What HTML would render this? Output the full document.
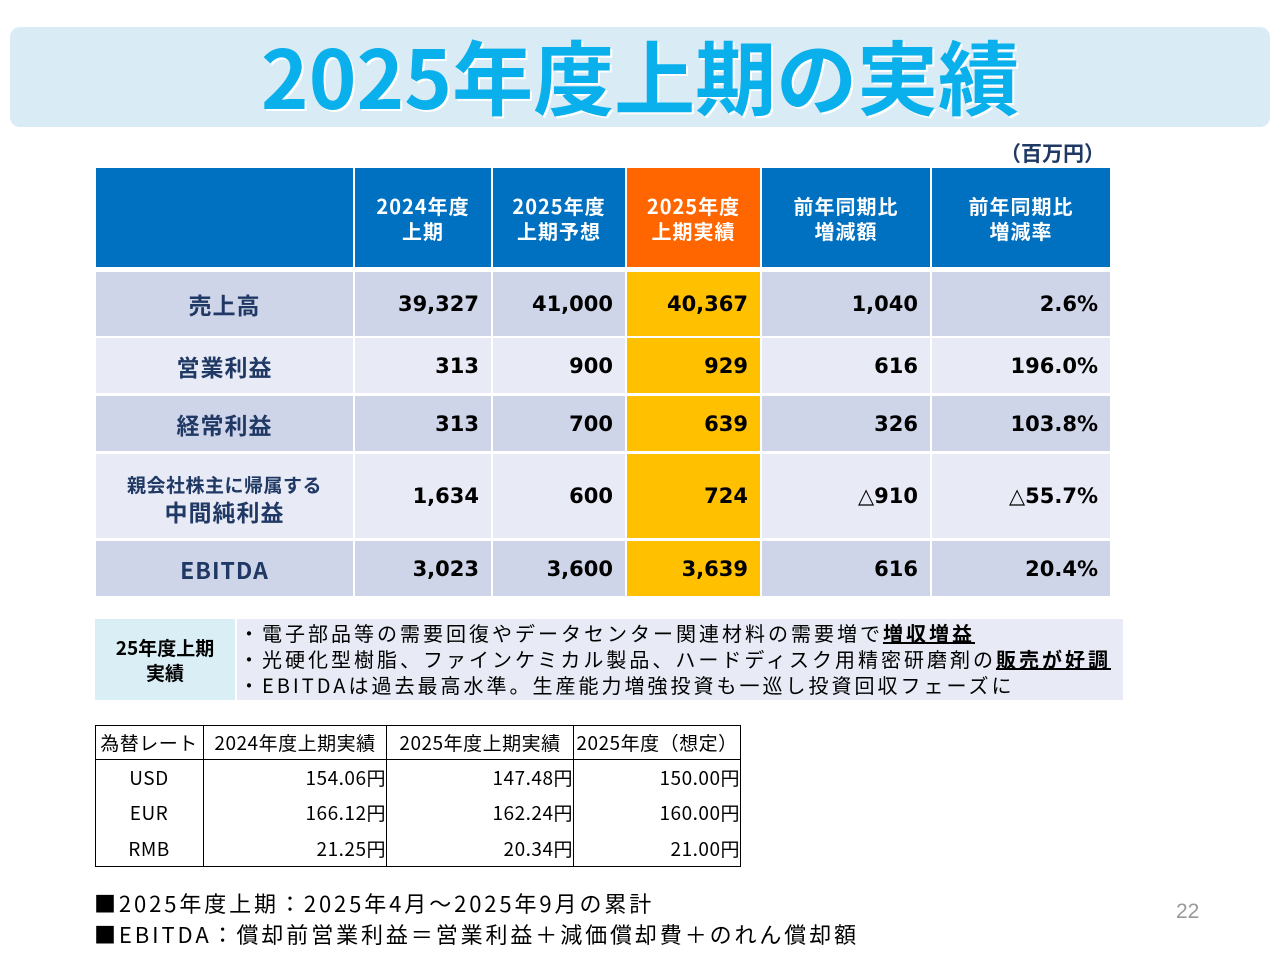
<!DOCTYPE html>
<html><head><meta charset="utf-8">
<style>
*{margin:0;padding:0;box-sizing:border-box}
body{width:1280px;height:960px;background:#fff;position:relative;overflow:hidden;font-family:"Liberation Sans","Noto Sans CJK JP",sans-serif}
.abs{position:absolute}
.c{position:absolute;display:flex;align-items:center;font-family:"Noto Sans CJK JP","Liberation Sans",sans-serif;font-weight:700}
.hd{background:#0070c0;color:#fff;justify-content:center;text-align:center;font-size:20px;line-height:25px;letter-spacing:1px}
.lb{justify-content:center;text-align:center;color:#1f3864;font-size:23px;line-height:26px;letter-spacing:1px}
.nm{justify-content:flex-end;padding-right:12px;font-size:21px;color:#000;font-family:"DejaVu Sans","Noto Sans CJK JP",sans-serif}
.o{background:#cfd5e8}.e{background:#e8ebf5}.y{background:#ffc000}
.fx{position:absolute;display:flex;align-items:center;font-family:"Noto Sans CJK JP",sans-serif;font-size:19px;color:#000;border-right:1.5px solid #000;border-bottom:1.5px solid #000;letter-spacing:0.5px}
</style></head><body>
<div class="abs" style="left:10px;top:27px;width:1260px;height:100px;background:#d9ecf6;border-radius:10px"></div>
<div class="abs" style="left:0;top:22px;width:1280px;text-align:center;font-family:'Noto Sans CJK JP',sans-serif;font-weight:700;font-size:81px;line-height:106px;letter-spacing:0px;color:#0ab0ec;text-shadow:2px 2px 0 #fff">2025年度上期の実績</div>
<div class="abs" style="left:1000px;top:138px;font-family:'Noto Sans CJK JP',sans-serif;font-weight:700;font-size:21px;color:#1f3864">（百万円）</div>

<div id="tbl"></div>

<div class="abs" style="left:95px;top:619px;width:140px;height:81px;background:#daeef5;display:flex;align-items:center;justify-content:center;text-align:center;font-family:'Noto Sans CJK JP',sans-serif;font-weight:700;font-size:19px;line-height:25px">25年度上期<br>実績</div>
<div class="abs" style="left:237px;top:619px;width:886px;height:81px;background:#e8ebf5;padding:1px 0 0 2px;font-family:'Noto Sans CJK JP',sans-serif;font-size:20px;line-height:26px;letter-spacing:3px;color:#000;white-space:nowrap;overflow:hidden">
<div>・電子部品等の需要回復やデータセンター関連材料の需要増で<b style="text-decoration:underline">増収増益</b></div>
<div>・光硬化型樹脂、ファインケミカル製品、ハードディスク用精密研磨剤の<b style="text-decoration:underline">販売が好調</b></div>
<div>・EBITDAは過去最高水準。生産能力増強投資も一巡し投資回収フェーズに</div>
</div>

<div class="abs" style="left:95px;top:725px;width:646px;height:142px;border-left:1.5px solid #000;border-top:1.5px solid #000"></div>
<div id="fx"></div>

<div class="abs" style="left:94px;top:888px;font-family:'Noto Sans CJK JP',sans-serif;font-size:22px;line-height:31px;letter-spacing:2.9px;color:#000;white-space:nowrap">
<div>■2025年度上期：2025年4月～2025年9月の累計</div>
<div>■EBITDA：償却前営業利益＝営業利益＋減価償却費＋のれん償却額</div>
</div>
<div class="abs" style="left:1176px;top:900px;font-size:21px;color:#999">22</div>

<script>
const colX=[96,355,493,627,762,932,1112];
const rowY=[[168,267],[272,336],[338,393],[396,451],[454,538],[541,596]];
const headers=['','2024年度<br>上期','2025年度<br>上期予想','2025年度<br>上期実績','前年同期比<br>増減額','前年同期比<br>増減率'];
const labels=['売上高','営業利益','経常利益','<div><span style="font-size:19px;letter-spacing:0.5px">親会社株主に帰属する</span><br>中間純利益</div>','EBITDA'];
const values=[['39,327','41,000','40,367','1,040','2.6%'],['313','900','929','616','196.0%'],['313','700','639','326','103.8%'],['1,634','600','724','△910','△55.7%'],['3,023','3,600','3,639','616','20.4%']];
const tbl=document.getElementById('tbl');
function cell(cls,x0,x1,y0,y1,html,bg){const d=document.createElement('div');d.className='c '+cls;d.style.left=x0+'px';d.style.width=(x1-x0-2)+'px';d.style.top=y0+'px';d.style.height=(y1-y0)+'px';if(bg)d.style.background=bg;d.innerHTML=html;tbl.appendChild(d);return d;}
headers.forEach((h,i)=>{const d=cell('hd',colX[i],colX[i+1],rowY[0][0],rowY[0][1],h,i===3?'#ff6600':null);

});
labels.forEach((l,r)=>{const [y0,y1]=rowY[r+1];const bg=r%2===0?'o':'e';
const d=cell('lb '+bg,colX[0],colX[1],y0,y1,l);


values[r].forEach((v,c)=>{const e=cell('nm '+(c===2?'y':bg),colX[c+1],colX[c+2],y0,y1,v);

});});

const fxX=[95,204,387,574,741];
const fxY=[725,760,795,830,867];
const fxRows=[['為替レート','2024年度上期実績','2025年度上期実績','2025年度（想定）'],['USD','154.06円','147.48円','150.00円'],['EUR','166.12円','162.24円','160.00円'],['RMB','21.25円','20.34円','21.00円']];
const fx=document.getElementById('fx');
fxRows.forEach((row,r)=>row.forEach((t,c)=>{const d=document.createElement('div');d.className='fx';


d.style.left=fxX[c]+'px';d.style.width=(fxX[c+1]-fxX[c])+'px';d.style.top=fxY[r]+'px';d.style.height=(fxY[r+1]-fxY[r])+'px';
if(r>0)d.style.borderBottom='none';
if(r===3)d.style.borderBottom='1.5px solid #000';
d.style.justifyContent=(r===0||c===0)?'center':'flex-end';
d.textContent=t;fx.appendChild(d);}));
</script>
</body></html>
